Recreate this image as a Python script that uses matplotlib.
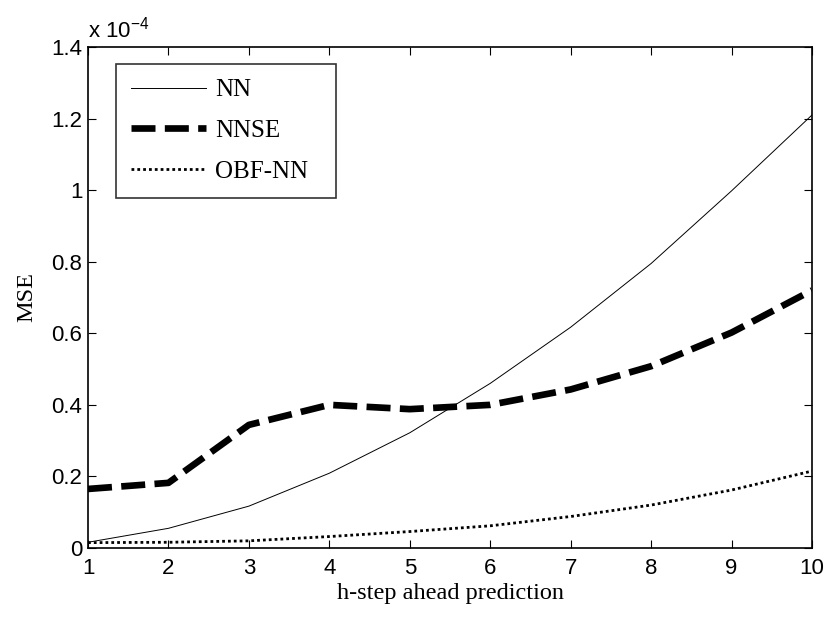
import matplotlib
matplotlib.use('Agg')
import matplotlib.pyplot as plt

# prediction horizon and MSE values (units of 1e-4)
steps = [1, 2, 3, 4, 5, 6, 7, 8, 9, 10]
mse_nn = [0.016, 0.055, 0.117, 0.209, 0.322, 0.46, 0.617, 0.795, 0.998, 1.21]
mse_nnse = [0.165, 0.182, 0.344, 0.40, 0.388, 0.40, 0.443, 0.508, 0.602, 0.72]
mse_obf = [0.015, 0.016, 0.02, 0.032, 0.046, 0.062, 0.088, 0.12, 0.162, 0.215]

y_ticks = [0, 0.2, 0.4, 0.6, 0.8, 1.0, 1.2, 1.4]
y_tick_labels = ['0', '0.2', '0.4', '0.6', '0.8', '1', '1.2', '1.4']

sans = 'Liberation Sans'
serif = 'Liberation Serif'

fig = plt.figure(figsize=(8.3, 6.17), dpi=100)
ax = fig.add_axes([88 / 830, 1 - 548 / 617, (812 - 88) / 830, (548 - 47) / 617])

ax.plot(steps, mse_nn, color='black', linewidth=0.7, label='NN')
ax.plot(steps, mse_nnse, color='black', linewidth=4.8,
        linestyle=(0, (3.6, 1.4)), label='NNSE')
ax.plot(steps, mse_obf, color='black', linewidth=2.0,
        linestyle=(0, (1, 1.1)), label='OBF-NN')

ax.set_xlim(1, 10)
ax.set_ylim(0, 1.4)
ax.set_xticks(steps)
ax.set_xticklabels([str(s) for s in steps], fontfamily=sans, fontsize=16)
ax.set_yticks(y_ticks)
ax.set_yticklabels(y_tick_labels, fontfamily=sans, fontsize=16)
ax.tick_params(direction='in', length=6, width=0.8, top=True, right=True)
ax.tick_params(axis='x', pad=7)
ax.tick_params(axis='y', pad=4)
for sp in ax.spines.values():
    sp.set_linewidth(1.2)

ax.set_xlabel('h-step ahead prediction', fontfamily=serif, fontsize=17.5, labelpad=3)
ax.set_ylabel('MSE', fontfamily=serif, fontsize=17.5, labelpad=10)

ax.text(0.0, 1.008, r'x 10$^{\mathregular{-4}}$', transform=ax.transAxes,
        fontfamily=sans, fontsize=16, ha='left', va='bottom')

# legend box stretched to a fixed width
leg = ax.legend(loc='upper left', mode='expand',
                bbox_to_anchor=(28 / 724, (548 - 194) / 501, 220 / 724, 130 / 501),
                prop={'family': serif, 'size': 18}, frameon=True,
                fancybox=False, edgecolor='black', handlelength=3.0,
                handletextpad=0.35, labelspacing=0.72, borderpad=0.6,
                borderaxespad=0)
leg.get_frame().set_linewidth(1.2)

fig.savefig('out.png', dpi=100)
